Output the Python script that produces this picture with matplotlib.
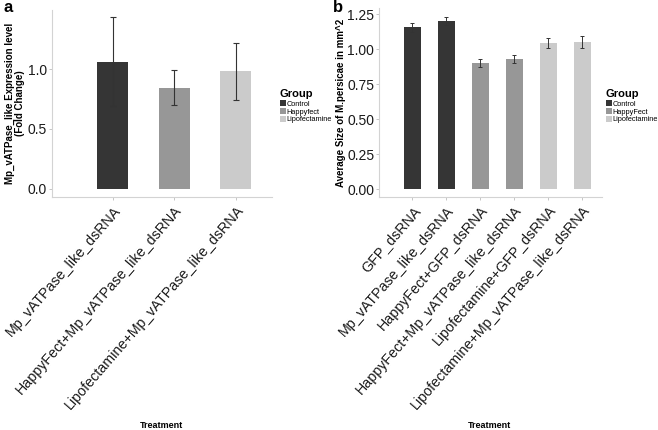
import numpy as np
import matplotlib
matplotlib.use("Agg")
import matplotlib.pyplot as plt
from matplotlib.patches import Patch

plt.rcParams["font.family"] = ["Liberation Sans", "DejaVu Sans"]

# ---------------- datos ----------------
# panel a
trat_a = ["Mp_vATPase_like_dsRNA",
          "HappyFect+Mp_vATPase_like_dsRNA",
          "Lipofectamine+Mp_vATPase_like_dsRNA"]
grupo_a = ["Control", "Happyfect", "Lipofectamine"]
media_a = [1.06, 0.84, 0.98]
err_lo_a = [0.69, 0.70, 0.74]
err_hi_a = [1.43, 0.995, 1.22]

# panel b
trat_b = ["GFP_dsRNA",
          "Mp_vATPase_like_dsRNA",
          "HappyFect+GFP_dsRNA",
          "HappyFect+Mp_vATPase_like_dsRNA",
          "Lipofectamine+GFP_dsRNA",
          "Lipofectamine+Mp_vATPase_like_dsRNA"]
grupo_b_idx = [0, 0, 1, 1, 2, 2]
grupo_b = ["Control", "HappyFect", "Lipofectamine"]
media_b = [1.157, 1.200, 0.902, 0.930, 1.045, 1.050]
err_lo_b = [1.126, 1.176, 0.875, 0.904, 1.011, 1.007]
err_hi_b = [1.186, 1.229, 0.928, 0.957, 1.081, 1.093]

colores = ["#353535", "#979797", "#cbcbcb"]

W, H = 658, 430
fig = plt.figure(figsize=(W / 100, H / 100), dpi=100)


def ejes_px(left, top, right, bottom):
    return fig.add_axes([left / W, 1 - bottom / H, (right - left) / W, (bottom - top) / H])


def estilo(ax):
    for s in ["top", "right"]:
        ax.spines[s].set_visible(False)
    for s in ["left", "bottom"]:
        ax.spines[s].set_color("#d3d3d3")
        ax.spines[s].set_linewidth(0.8)
    ax.tick_params(axis="both", colors="#bdbdbd", length=2.5, width=0.6,
                   labelcolor="#1a1a1a")
    ax.tick_params(axis="y", labelsize=10, pad=1)
    ax.tick_params(axis="x", labelsize=10.3, pad=2)


def leyenda(x, y, etiquetas):
    handles = [Patch(facecolor=c, edgecolor="none") for c in colores]
    leg = fig.legend(handles, etiquetas, title="Group", loc="upper left",
                     bbox_to_anchor=(x / W, 1 - y / H), frameon=False,
                     fontsize=5.3, handlelength=0.75, handleheight=0.9,
                     handletextpad=0.15, labelspacing=0.0, borderpad=0,
                     borderaxespad=0)
    leg.get_title().set_fontweight("bold")
    leg.get_title().set_fontsize(8)
    leg._legend_box.align = "left"
    leg._legend_box.sep = 1


# ---------------- panel a ----------------
ax1 = ejes_px(52, 10, 272, 197)
xa = np.arange(len(trat_a))
ax1.bar(xa, media_a, width=0.5, color=colores)
ax1.errorbar(xa, media_a,
             yerr=[np.subtract(media_a, err_lo_a), np.subtract(err_hi_a, media_a)],
             fmt="none", ecolor="#333333", elinewidth=0.8, capsize=2.3, capthick=0.8)
ax1.set_xlim(-0.99, 2.59)
ax1.set_ylim(-0.067, 1.492)
ax1.set_yticks([0.0, 0.5, 1.0])
ax1.set_yticklabels(["0.0", "0.5", "1.0"])
ax1.set_xticks(xa)
ax1.set_xticklabels(trat_a, rotation=49, ha="right", va="top", rotation_mode="anchor")
estilo(ax1)
ax1.set_ylabel("Mp_vATPase_like Expression level\n(Fold Change)",
               fontsize=7, fontweight="bold", labelpad=2, linespacing=1.0)
fig.text(162 / W, 1 - 426 / H, "Treatment", fontsize=6.5, fontweight="bold",
         ha="center", va="center")
fig.text(3 / W, 1 - 8 / H, "a", fontsize=12, fontweight="bold", ha="left", va="center")
leyenda(280, 89, grupo_a)

# ---------------- panel b ----------------
ax2 = ejes_px(379, 8, 602, 197)
xb = np.arange(len(trat_b))
ax2.bar(xb, media_b, width=0.5, color=[colores[i] for i in grupo_b_idx])
ax2.errorbar(xb, media_b,
             yerr=[np.subtract(media_b, err_lo_b), np.subtract(err_hi_b, media_b)],
             fmt="none", ecolor="#333333", elinewidth=0.7, capsize=1.6, capthick=0.7)
ax2.set_xlim(-0.98, 5.58)
ax2.set_ylim(-0.057, 1.296)
ax2.set_yticks([0.0, 0.25, 0.5, 0.75, 1.0, 1.25])
ax2.set_yticklabels(["0.00", "0.25", "0.50", "0.75", "1.00", "1.25"])
ax2.set_xticks(xb)
ax2.set_xticklabels(trat_b, rotation=49, ha="right", va="top", rotation_mode="anchor")
estilo(ax2)
ax2.set_ylabel("Average Size of M.persicae in mm^2",
               fontsize=7, fontweight="bold", labelpad=1)
fig.text(490 / W, 1 - 426 / H, "Treatment", fontsize=6.5, fontweight="bold",
         ha="center", va="center")
fig.text(333 / W, 1 - 8 / H, "b", fontsize=12, fontweight="bold", ha="left", va="center")
leyenda(606, 89, grupo_b)

fig.savefig("out.png", dpi=100)
